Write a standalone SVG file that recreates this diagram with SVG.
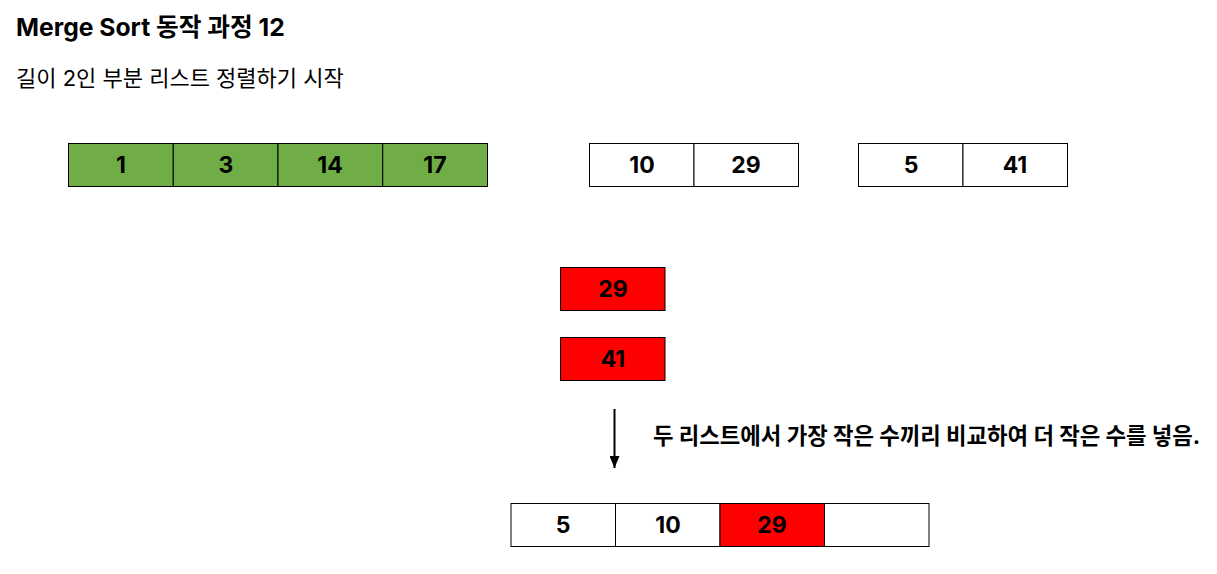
<svg xmlns="http://www.w3.org/2000/svg" width="1217" height="574" viewBox="0 0 1217 574">
<style>
text{font-family:Inter,"Noto Sans CJK KR",sans-serif;fill:#000}
.c{stroke:#000;stroke-width:1}
.w{fill:#fff}.g{fill:#70ad47}.r{fill:#ff0000}
.n{font-size:23px;font-weight:bold;text-anchor:middle;dominant-baseline:central}
</style>
<defs><marker id="ah" markerWidth="12" markerHeight="10" refX="12" refY="5" orient="auto" markerUnits="userSpaceOnUse"><path d="M0,0 L12,5 L0,10 Z" fill="#000"/></marker></defs>
<rect width="1217" height="574" fill="#fff"/>
<text x="16" y="36" font-size="24.7" font-weight="bold">Merge Sort 동작 과정 12</text>
<text x="16" y="86" font-size="22">길이 2인 부분 리스트 정렬하기 시작</text>
<g id="list1">
<rect class="c g" x="68.5" y="143.5" width="104.75" height="43"/>
<rect class="c g" x="173.25" y="143.5" width="104.75" height="43"/>
<rect class="c g" x="278" y="143.5" width="104.75" height="43"/>
<rect class="c g" x="382.75" y="143.5" width="104.75" height="43"/>
<text class="n" x="121" y="165">1</text>
<text class="n" x="226" y="165">3</text>
<text class="n" x="330" y="165">14</text>
<text class="n" x="435" y="165">17</text>
</g>
<g id="list2">
<rect class="c w" x="589.5" y="143.5" width="104.5" height="43"/>
<rect class="c w" x="694" y="143.5" width="104.5" height="43"/>
<text class="n" x="642" y="165">10</text>
<text class="n" x="746" y="165">29</text>
</g>
<g id="list3">
<rect class="c w" x="858.5" y="143.5" width="104.5" height="43"/>
<rect class="c w" x="963" y="143.5" width="104.5" height="43"/>
<text class="n" x="911" y="165">5</text>
<text class="n" x="1015" y="165">41</text>
</g>
<g id="cmp29">
<rect class="c r" x="560.5" y="267.5" width="104.5" height="43"/>
<text class="n" x="613" y="289">29</text>
</g>
<g id="cmp41">
<rect class="c r" x="560.5" y="337.5" width="104.5" height="43"/>
<text class="n" x="613" y="359">41</text>
</g>
<g id="connectors">
<line x1="614.5" y1="409" x2="614.5" y2="468" stroke="#000" stroke-width="2" marker-end="url(#ah)"/>
</g>
<text x="653" y="444" font-size="22.3" font-weight="bold">두 리스트에서 가장 작은 수끼리 비교하여 더 작은 수를 넣음.</text>
<g id="result">
<rect class="c w" x="511" y="503.5" width="104.5" height="43"/>
<rect class="c w" x="615.5" y="503.5" width="104.5" height="43"/>
<rect class="c r" x="720" y="503.5" width="104.5" height="43"/>
<rect class="c w" x="824.5" y="503.5" width="104.5" height="43"/>
<text class="n" x="563" y="525">5</text>
<text class="n" x="668" y="525">10</text>
<text class="n" x="772" y="525">29</text>
</g>
</svg>
